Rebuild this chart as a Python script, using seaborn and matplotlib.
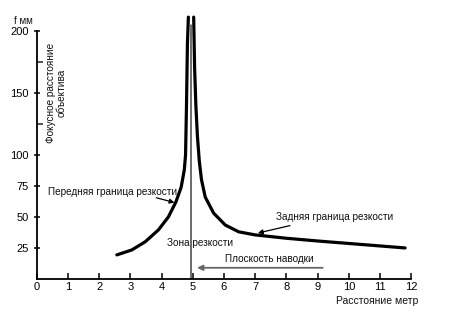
import matplotlib
matplotlib.use("Agg")
import matplotlib.pyplot as plt
import seaborn as sns
import pandas as pd

# Depth of field: near and far limits of sharpness vs. focus distance
front_x = [2.57, 3.05, 3.48, 3.90, 4.22, 4.46, 4.63, 4.73, 4.77, 4.80, 4.83, 4.86]
front_y = [19.4, 23.4, 30, 39.5, 50, 62, 74, 88, 100, 140, 190, 211]

rear_x = [5.03, 5.06, 5.10, 5.15, 5.21, 5.28, 5.40, 5.67, 6.04, 6.47, 7.0, 8.0, 9.0, 10.0, 11.0, 11.8]
rear_y = [211, 170, 140, 115, 95, 80, 66, 53, 43.5, 38, 35.5, 32.8, 30.6, 28.6, 26.6, 25]

focus_distance = 4.95
x_ticks = list(range(0, 13))
y_ticks = [25, 50, 75, 100, 150, 200]
y_minor = [125, 175]

sns.set_style("white")
plt.rcParams["font.family"] = ["Liberation Sans", "DejaVu Sans"]

fig = plt.figure(figsize=(4.52, 3.24), dpi=100)
ax = fig.add_axes([0.081, 0.139, 0.829, 0.812])

front = pd.DataFrame({"x": front_x, "y": front_y})
rear = pd.DataFrame({"x": rear_x, "y": rear_y})
for df in (front, rear):
    sns.lineplot(data=df, x="x", y="y", sort=False, estimator=None,
                 color="black", linewidth=2.3, ax=ax, clip_on=False,
                 solid_joinstyle="round", solid_capstyle="round")

# plane of focus
ax.plot([focus_distance, focus_distance], [0, 205], color="#444444", linewidth=1.1)

ax.set_xlim(0, 12)
ax.set_ylim(0, 212)
ax.set_xticks(x_ticks)
ax.set_xticklabels([str(v) for v in x_ticks])
ax.set_yticks(y_ticks)
ax.set_yticks(y_minor, minor=True)
ax.set_yticklabels([str(v) for v in y_ticks])
ax.tick_params(axis="x", direction="in", length=4, width=1.1, labelsize=8, pad=2, colors="black")
ax.tick_params(axis="y", which="major", direction="inout", length=5, width=1.1, labelsize=8, pad=3, colors="black")
ax.tick_params(axis="y", which="minor", direction="in", length=4, width=1.1)
ax.xaxis.set_ticks_position("bottom")
ax.yaxis.set_ticks_position("left")

for side in ("top", "right"):
    ax.spines[side].set_visible(False)
for side in ("left", "bottom"):
    ax.spines[side].set_color("black")
    ax.spines[side].set_linewidth(1.3)
ax.spines["left"].set_bounds(0, 200)
ax.set_xlabel("")
ax.set_ylabel("")

tkw = dict(fontsize=7.2, color="#111111")
ax.text(2.43, 70, "Передняя граница резкости", ha="center", va="center", **tkw)
ax.annotate("", xy=(4.5, 61), xytext=(3.75, 66),
            arrowprops=dict(arrowstyle="-|>", color="black", lw=0.9, mutation_scale=7))
ax.text(9.55, 50, "Задняя граница резкости", ha="center", va="center", **tkw)
ax.annotate("", xy=(7.0, 36.5), xytext=(8.2, 43.5),
            arrowprops=dict(arrowstyle="-|>", color="black", lw=0.9, mutation_scale=7))
ax.text(5.25, 29, "Зона резкости", ha="center", va="center", **tkw)
ax.text(7.45, 16, "Плоскость наводки", ha="center", va="center", **tkw)
ax.annotate("", xy=(5.05, 9), xytext=(9.25, 9),
            arrowprops=dict(arrowstyle="-|>", color="#666666", lw=1.3, mutation_scale=8))

ax.text(10.9, -17.5, "Расстояние метр", ha="center", va="center",
        fontsize=7.5, color="#111111", clip_on=False)
fig.text(0.052, 0.935, "f мм", ha="center", va="center", fontsize=7, color="#111111")
ax.text(0.62, 150, "Фокусное расстояние\nобъектива", rotation=90, ha="center",
        va="center", fontsize=7.2, linespacing=1.1, color="#111111")

fig.savefig("out.png", dpi=100)
